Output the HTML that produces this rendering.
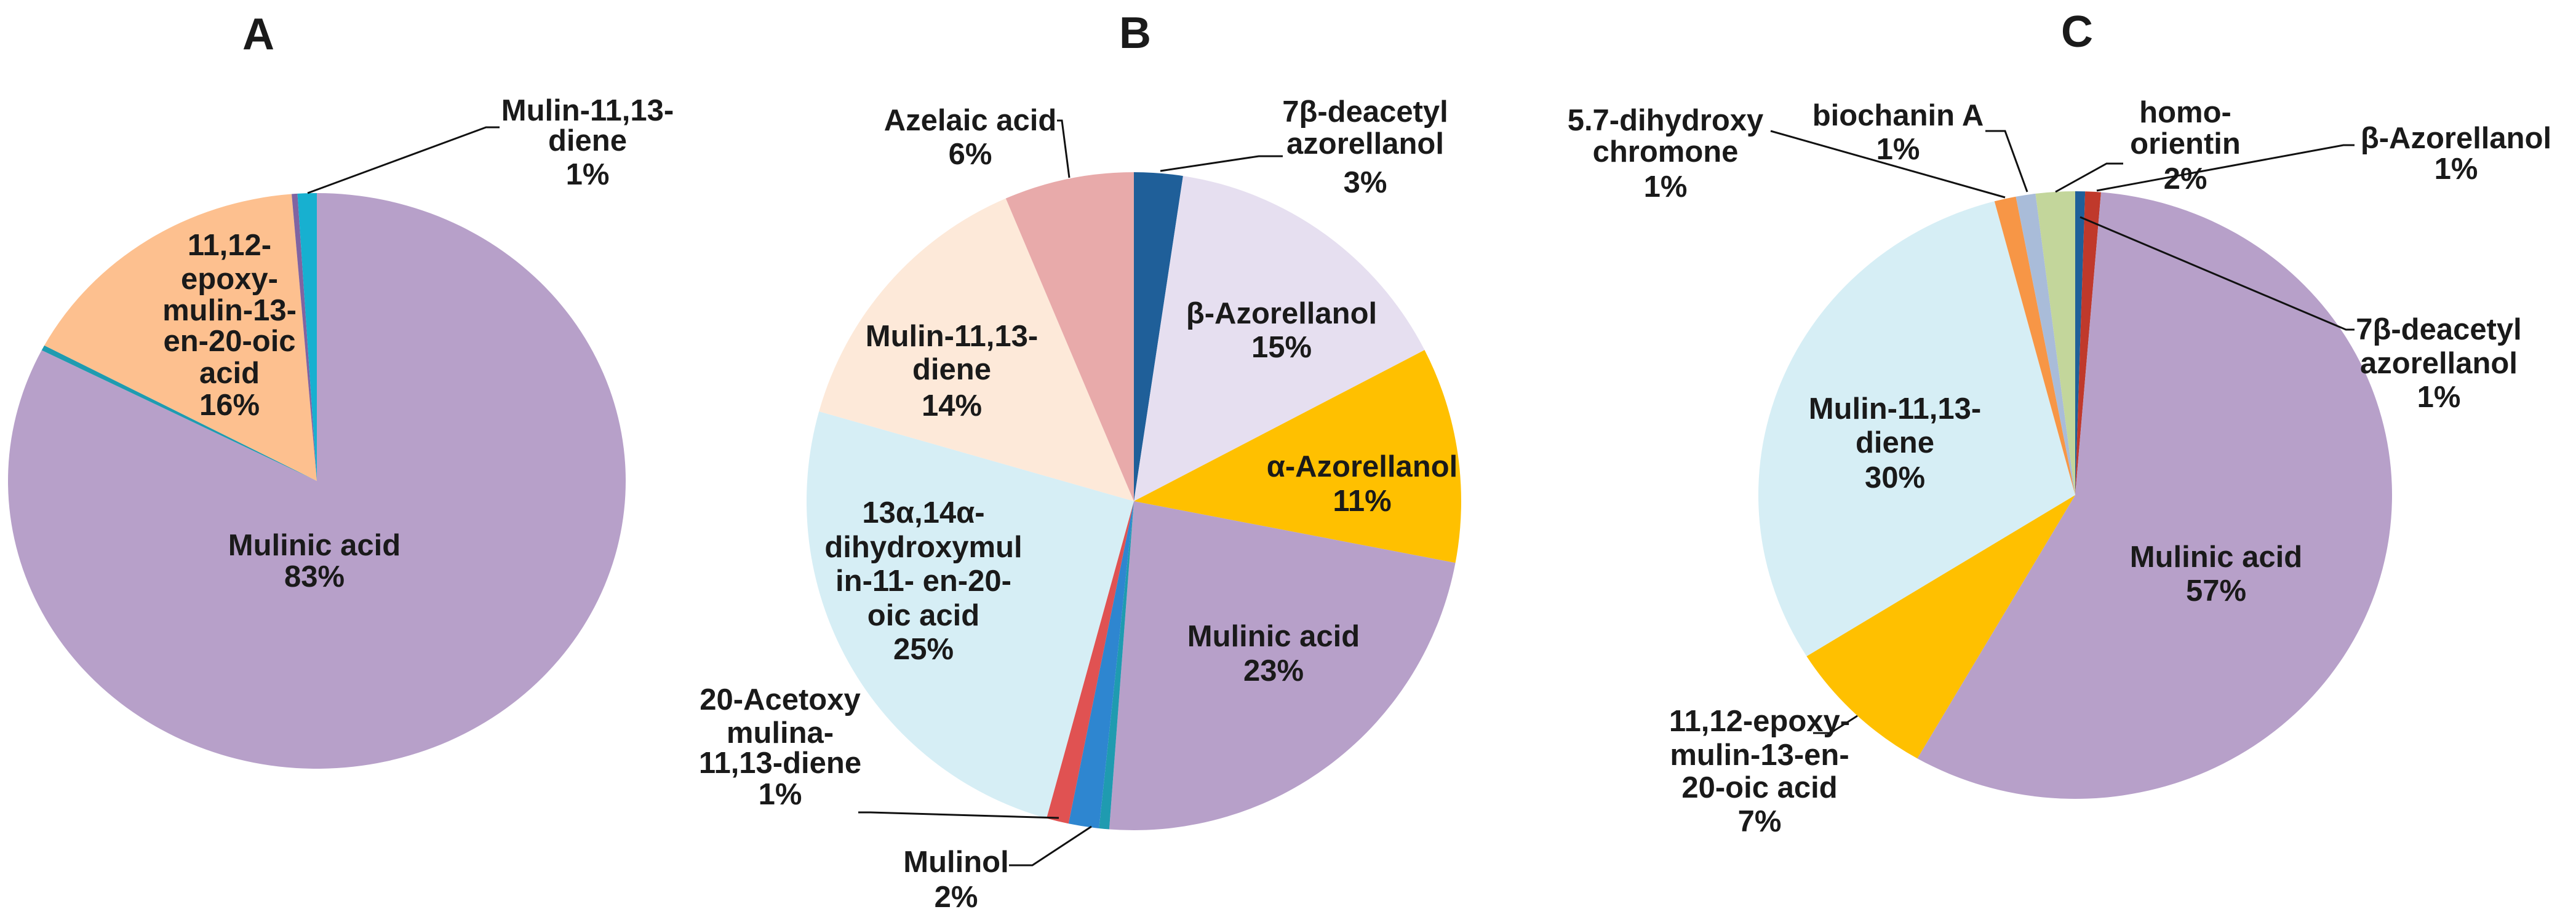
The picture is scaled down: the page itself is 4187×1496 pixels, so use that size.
<!DOCTYPE html>
<html><head><meta charset="utf-8"><style>
html,body{margin:0;padding:0;background:#fff;}
svg{display:block;}
text{font-family:"Liberation Sans",Arial,sans-serif;font-weight:bold;fill:#1a1a1a;text-anchor:middle;}
.lbl{font-size:49px;}
.ttl{font-size:72px;}
.ld{stroke:#111;stroke-width:3;fill:none;}
</style></head><body>
<svg id="chart" width="4187" height="1496" viewBox="0 0 4187 1496" xmlns="http://www.w3.org/2000/svg">
<g id="slices"></g>
<text class="ttl" x="420" y="80">A</text>
<text class="ttl" x="1845" y="78">B</text>
<text class="ttl" x="3376" y="76">C</text>

<g>
<polyline class="ld" points="500,314 790,207 812,207"/>
<text class="lbl" x="955" y="196">Mulin-11,13-</text><text class="lbl" x="955" y="245">diene</text><text class="lbl" x="955" y="300">1%</text>
<text class="lbl" x="373" y="415">11,12-</text><text class="lbl" x="373" y="470">epoxy-</text><text class="lbl" x="373" y="521">mulin-13-</text><text class="lbl" x="373" y="571">en-20-oic</text><text class="lbl" x="373" y="623">acid</text><text class="lbl" x="373" y="675">16%</text>
<text class="lbl" x="511" y="903">Mulinic acid</text><text class="lbl" x="511" y="954">83%</text>
</g>

<g>
<polyline class="ld" points="1738,289 1726,196 1718,196"/>
<text class="lbl" x="1577" y="212">Azelaic acid</text><text class="lbl" x="1577" y="267">6%</text>
<polyline class="ld" points="1886,278 2046,254 2085,254"/>
<text class="lbl" x="2219" y="198">7β-deacetyl</text><text class="lbl" x="2219" y="250">azorellanol</text><text class="lbl" x="2219" y="313">3%</text>
<text class="lbl" x="2083" y="526">β-Azorellanol</text><text class="lbl" x="2083" y="581">15%</text>
<text class="lbl" x="2214" y="775">α-Azorellanol</text><text class="lbl" x="2214" y="831">11%</text>
<text class="lbl" x="2070" y="1051">Mulinic acid</text><text class="lbl" x="2070" y="1107">23%</text>
<text class="lbl" x="1501" y="850">13α,14α-</text><text class="lbl" x="1501" y="906">dihydroxymul</text><text class="lbl" x="1501" y="961">in-11- en-20-</text><text class="lbl" x="1501" y="1017">oic acid</text><text class="lbl" x="1501" y="1072">25%</text>
<text class="lbl" x="1547" y="563">Mulin-11,13-</text><text class="lbl" x="1547" y="617">diene</text><text class="lbl" x="1547" y="676">14%</text>
<polyline class="ld" points="1721,1330 1415,1321 1395,1321"/>
<text class="lbl" x="1268" y="1154">20-Acetoxy</text><text class="lbl" x="1268" y="1208">mulina-</text><text class="lbl" x="1268" y="1257">11,13-diene</text><text class="lbl" x="1268" y="1308">1%</text>
<polyline class="ld" points="1774,1344 1678,1407 1640,1407"/>
<text class="lbl" x="1554" y="1418">Mulinol</text><text class="lbl" x="1554" y="1475">2%</text>
</g>

<g>
<polyline class="ld" points="2878,213 3259,321"/>
<text class="lbl" x="2707" y="212">5.7-dihydroxy</text><text class="lbl" x="2707" y="263">chromone</text><text class="lbl" x="2707" y="320">1%</text>
<polyline class="ld" points="3227,213 3259,213 3295,312"/>
<text class="lbl" x="3085" y="204">biochanin A</text><text class="lbl" x="3085" y="259">1%</text>
<polyline class="ld" points="3341,312 3424,266 3451,266"/>
<text class="lbl" x="3552" y="199">homo-</text><text class="lbl" x="3552" y="250">orientin</text><text class="lbl" x="3552" y="307">2%</text>
<polyline class="ld" points="3408,310 3809,236 3827,236"/>
<text class="lbl" x="3992" y="241">β-Azorellanol</text><text class="lbl" x="3992" y="291">1%</text>
<polyline class="ld" points="3381,353 3813,536 3827,536"/>
<text class="lbl" x="3964" y="552">7β-deacetyl</text><text class="lbl" x="3964" y="607">azorellanol</text><text class="lbl" x="3964" y="662">1%</text>
<text class="lbl" x="3080" y="681">Mulin-11,13-</text><text class="lbl" x="3080" y="736">diene</text><text class="lbl" x="3080" y="793">30%</text>
<text class="lbl" x="3602" y="922">Mulinic acid</text><text class="lbl" x="3602" y="977">57%</text>
<polyline class="ld" points="3019,1164 2975,1192 2947,1192"/>
<text class="lbl" x="2860" y="1189">11,12-epoxy-</text><text class="lbl" x="2860" y="1244">mulin-13-en-</text><text class="lbl" x="2860" y="1297">20-oic acid</text><text class="lbl" x="2860" y="1352">7%</text>
</g>
</svg>
<script>
// Pie A (clockwise from 12 o'clock)
const catsA = ["Mulinic acid","minor teal","11,12-epoxy-mulin-13-en-20-oic acid","minor purple","Mulin-11,13-diene"];
const valsA = [82.5, 0.3, 15.9, 0.3, 1.0];
const colsA = ["#b7a0c9","#1f9bb0","#fdc08f","#8064a2","#17b0d0"];
// Pie B
const catsB = ["7β-deacetyl azorellanol","β-Azorellanol","α-Azorellanol","Mulinic acid","minor teal","Mulinol","20-Acetoxy mulina-11,13-diene","13α,14α-dihydroxymulin-11-en-20-oic acid","Mulin-11,13-diene","Azelaic acid"];
const valsB = [2.4, 15.0, 10.6, 23.2, 0.5, 1.5, 1.1, 25.1, 14.2, 6.4];
const colsB = ["#1f5f99","#e6dff0","#ffc000","#b7a0c9","#1f9bb0","#2e86d0","#e05252","#d6eef5","#fde9d9","#e8aaaa"];
// Pie C
const catsC = ["7β-deacetyl azorellanol","β-Azorellanol","Mulinic acid","11,12-epoxy-mulin-13-en-20-oic acid","Mulin-11,13-diene","5.7-dihydroxy chromone","biochanin A","homo-orientin"];
const valsC = [0.5, 0.8, 57.0, 7.8, 29.8, 1.1, 1.0, 2.0];
const colsC = ["#1f5f99","#c0392b","#b7a0c9","#ffc000","#d6eef5","#f79646","#a9bcd9","#c3d69b"];

const pies = [
  {id:"a", cx:515, cy:782, rx:502, ry:468, cats:catsA, vals:valsA, cols:colsA},
  {id:"b", cx:1843, cy:815, rx:532, ry:535, cats:catsB, vals:valsB, cols:colsB},
  {id:"c", cx:3373, cy:805, rx:515, ry:494, cats:catsC, vals:valsC, cols:colsC}
];
const NS = "http://www.w3.org/2000/svg";
const g = document.getElementById("slices");
function pt(p, a){ return [p.cx + p.rx*Math.sin(a), p.cy - p.ry*Math.cos(a)]; }
pies.forEach(p=>{
  const total = p.vals.reduce((s,v)=>s+v,0);
  let acc = 0;
  p.vals.forEach((v,i)=>{
    const a0 = acc/total*2*Math.PI; acc += v;
    const a1 = acc/total*2*Math.PI;
    const s = pt(p,a0), e = pt(p,a1);
    const large = (a1-a0) > Math.PI ? 1 : 0;
    const path = document.createElementNS(NS,"path");
    path.setAttribute("d",`M${p.cx},${p.cy} L${s[0]},${s[1]} A${p.rx},${p.ry} 0 ${large} 1 ${e[0]},${e[1]} Z`);
    path.setAttribute("fill",p.cols[i]);
    
    
    g.appendChild(path);
  });
});
</script>
</body></html>
